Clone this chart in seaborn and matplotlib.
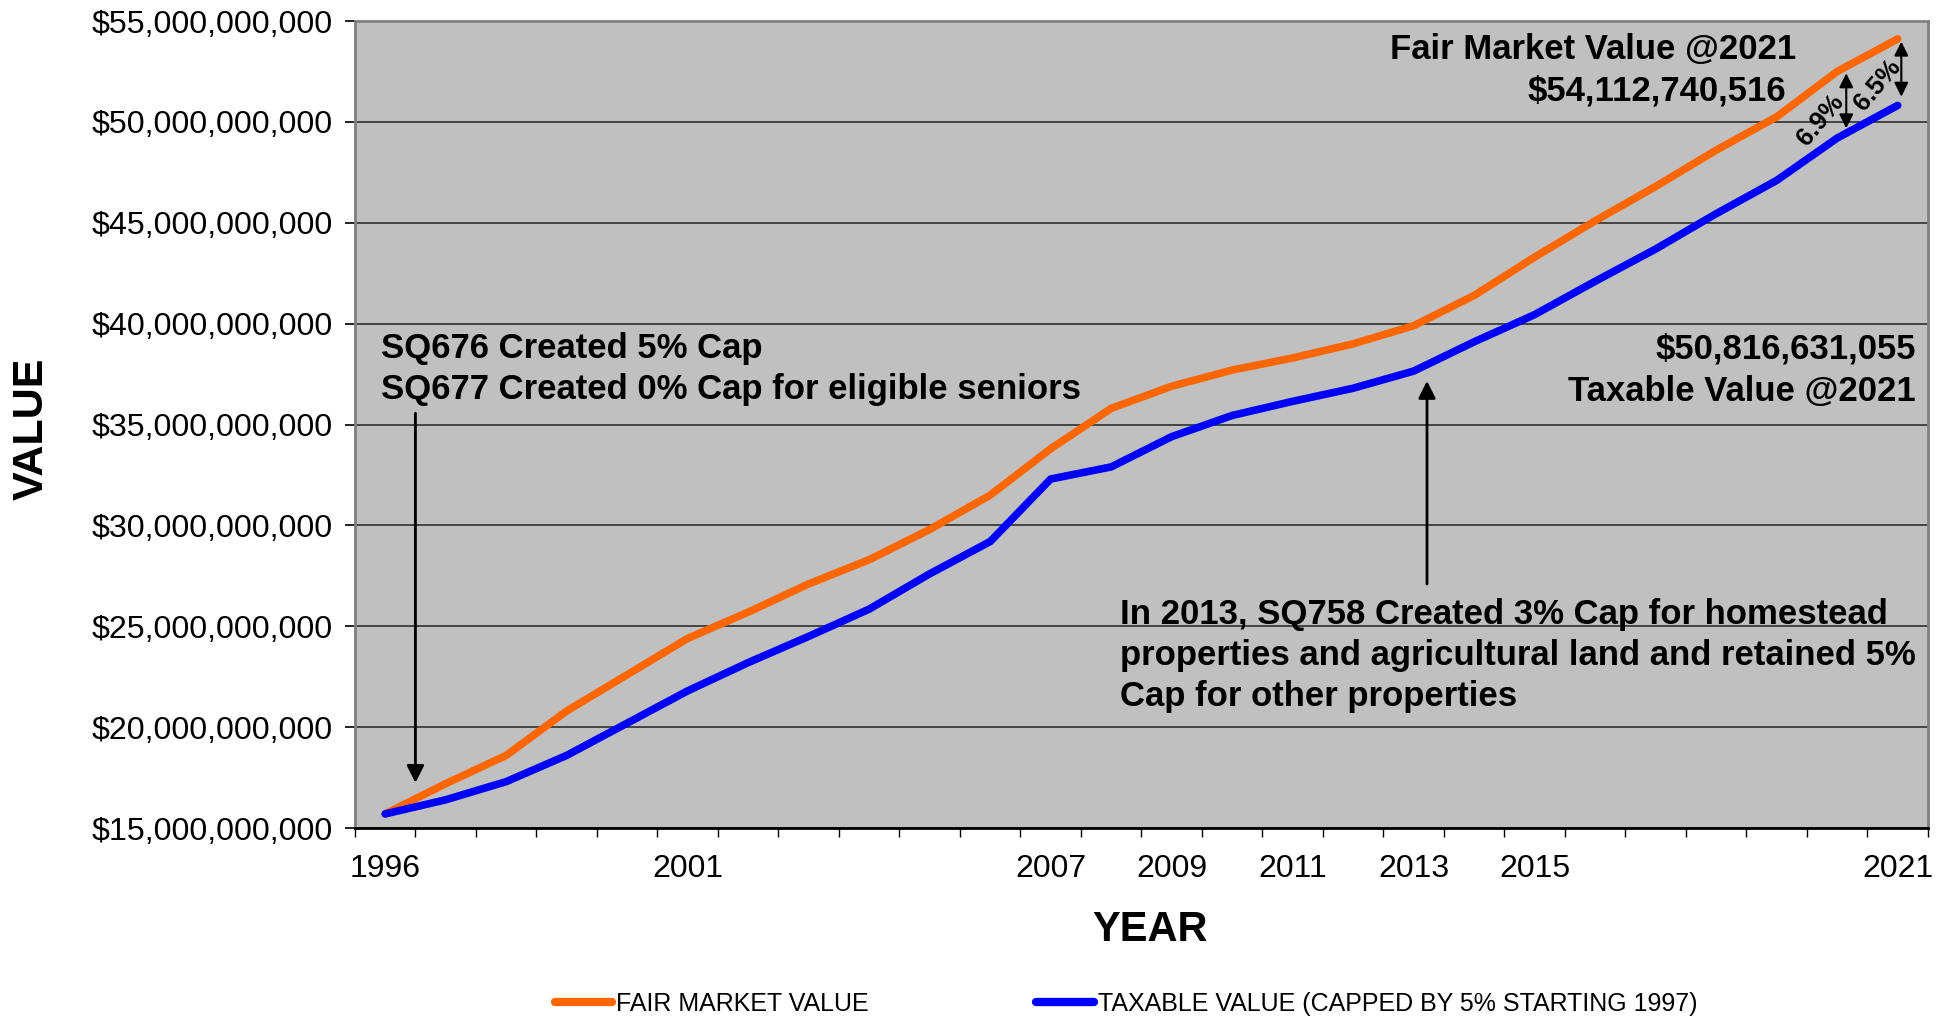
import matplotlib
matplotlib.use('Agg')
import matplotlib.pyplot as plt
import matplotlib.ticker as mticker
import seaborn as sns
import pandas as pd

# values in billions of dollars
years = list(range(1996, 2022))
fair_market = [15.7, 17.2, 18.6, 20.8, 22.6, 24.4, 25.7, 27.1, 28.3, 29.8, 31.5, 33.8,
               35.8, 36.9, 37.7, 38.3, 39.0, 39.9, 41.4, 43.3, 45.1, 46.8, 48.6, 50.25,
               52.5, 54.112740516]
taxable = [15.7, 16.4, 17.3, 18.6, 20.2, 21.8, 23.2, 24.5, 25.85, 27.6, 29.2, 32.3,
           32.9, 34.4, 35.45, 36.15, 36.8, 37.65, 39.1, 40.45, 42.1, 43.7, 45.45, 47.1,
           49.2, 50.816631055]
labeled_years = [1996, 2001, 2007, 2009, 2011, 2013, 2015, 2021]
series_names = ["FAIR MARKET VALUE", "TAXABLE VALUE (CAPPED BY 5% STARTING 1997)"]

df = pd.DataFrame({
    "year": years * 2,
    "value": [v * 1e9 for v in fair_market + taxable],
    "series": [series_names[0]] * len(years) + [series_names[1]] * len(years),
})

sns.set_theme(style="white")
plt.rcParams['font.family'] = ['Liberation Sans', 'DejaVu Sans']
plt.rcParams['text.color'] = 'black'
plt.rcParams['axes.labelcolor'] = 'black'
plt.rcParams['xtick.color'] = 'black'
plt.rcParams['ytick.color'] = 'black'

fig = plt.figure(figsize=(19.48, 10.16), dpi=100)
ax = fig.add_axes([0.1822, 0.185, 0.8075, 0.7943])
ax.set_facecolor('#c0c0c0')

sns.lineplot(data=df, x="year", y="value", hue="series", ax=ax,
             palette=['#ff6600', '#0000ff'], linewidth=5.5, legend=False,
             solid_capstyle='round', zorder=3)

ax.set_xlim(1995.5, 2021.5)
ax.set_ylim(15e9, 55e9)
ax.yaxis.set_major_locator(mticker.MultipleLocator(5e9))
ax.yaxis.set_major_formatter(mticker.FuncFormatter(lambda v, p: f"${v:,.0f}"))
ax.grid(axis='y', color='#3a3a3a', linewidth=1.3)
ax.set_axisbelow(True)

ax.set_xticks(labeled_years)
ax.set_xticklabels([str(y) for y in labeled_years], fontsize=23)
ax.set_xticks([y - 0.5 for y in years] + [2021.5], minor=True)
ax.tick_params(axis='x', which='major', length=0, pad=19)
ax.tick_params(axis='x', which='minor', length=6.5, width=1, direction='out', bottom=True)
ax.tick_params(axis='y', length=7, width=1.2, direction='out',
               labelsize=23.1, pad=9, left=True)

for s in ['left', 'top', 'right']:
    ax.spines[s].set_color('#808080')
    ax.spines[s].set_linewidth(2)
ax.spines['bottom'].set_color('black')
ax.spines['bottom'].set_linewidth(2)

ax.set_xlabel('YEAR', fontsize=30, fontweight='bold')
ax.xaxis.set_label_coords(0.5055, -0.1015)
ax.set_ylabel('VALUE', fontsize=31, fontweight='bold')
ax.yaxis.set_label_coords(-0.193, 0.495)

# annotations, one text per line
bold = dict(fontsize=25, fontweight='bold', color='black', va='center')
notes = [
    (1995.93, 38.79e9, "SQ676 Created 5% Cap", 'left'),
    (1995.93, 36.76e9, "SQ677 Created 0% Cap for eligible seniors", 'left'),
    (2008.15, 25.6e9, "In 2013, SQ758 Created 3% Cap for homestead", 'left'),
    (2008.15, 23.57e9, "properties and agricultural land and retained 5%", 'left'),
    (2008.15, 21.53e9, "Cap for other properties", 'left'),
    (2021.3, 38.73e9, "$50,816,631,055", 'right'),
    (2021.3, 36.63e9, "Taxable Value @2021", 'right'),
    (2019.32, 53.58e9, "Fair Market Value @2021", 'right'),
    (2019.15, 51.55e9, "$54,112,740,516", 'right'),
]
for x, y, txt, ha in notes:
    ax.text(x, y, txt, ha=ha, **bold)

ax.annotate("", xy=(1996.5, 17.1e9), xytext=(1996.5, 35.7e9),
            arrowprops=dict(arrowstyle='-|>', color='black', lw=2, mutation_scale=26))
ax.annotate("", xy=(2013.22, 37.3e9), xytext=(2013.22, 26.96e9),
            arrowprops=dict(arrowstyle='-|>', color='black', lw=2, mutation_scale=26))

# percentage gaps between the two lines
for x, top, bottom, label, tx, ty in [(2020.15, 52.41e9, 49.68e9, "6.9%", 2019.73, 50.1e9),
                                      (2021.06, 53.98e9, 51.25e9, "6.5%", 2020.67, 51.83e9)]:
    ax.annotate("", xy=(x, bottom), xytext=(x, top),
                arrowprops=dict(arrowstyle='<|-|>', color='black', lw=1.5, mutation_scale=21,
                                shrinkA=0, shrinkB=0))
    ax.text(tx, ty, label, rotation=50, ha='center', va='center',
            fontsize=18.5, fontweight='bold')

handles = [plt.Line2D([], [], color='#ff6600', lw=6, solid_capstyle='round'),
           plt.Line2D([], [], color='#0000ff', lw=6, solid_capstyle='round')]
fig.legend(handles, series_names, loc='center', bbox_to_anchor=(0.578, 0.012), ncol=2,
           frameon=False, handlelength=2.3, handletextpad=0.15, columnspacing=6.7,
           prop=dict(size=18))

fig.savefig('out.png', dpi=100)
plt.close(fig)
